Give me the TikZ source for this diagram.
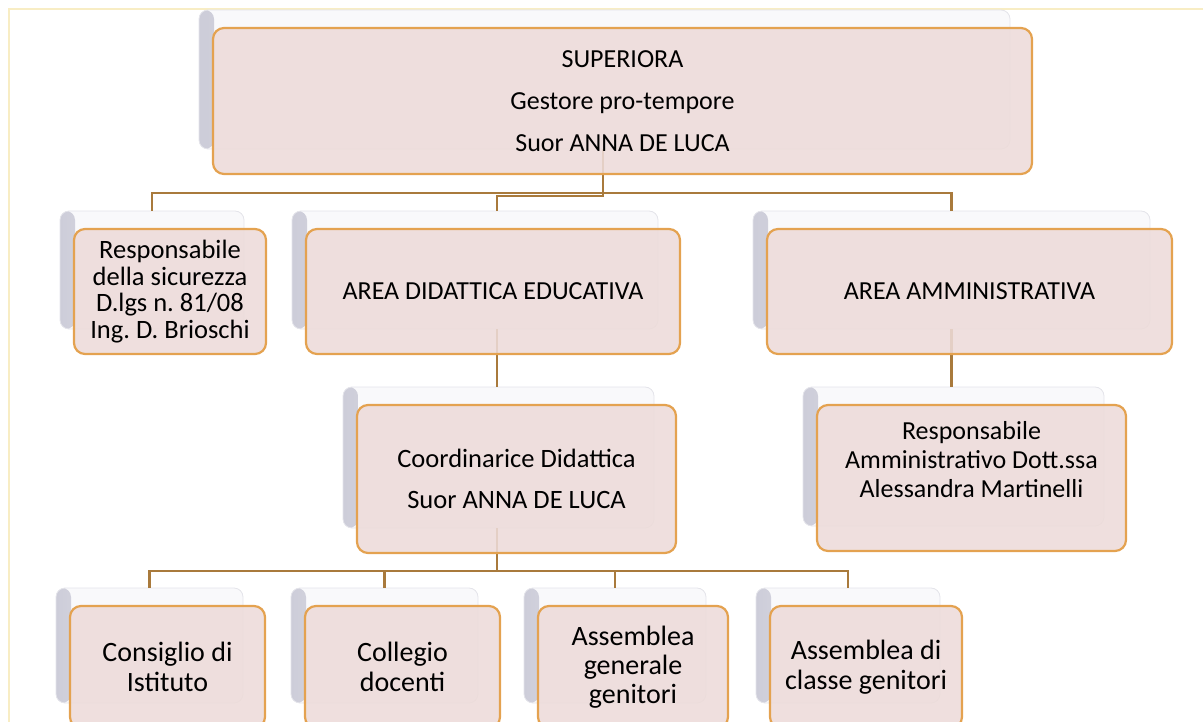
\documentclass[tikz,border=0pt]{standalone}
\usepackage{fontspec}
\setmainfont{Carlito}
\frenchspacing
\definecolor{frontfill}{HTML}{EDDBD9}
\definecolor{frontline}{HTML}{E4A250}
\definecolor{conn}{HTML}{A97A3C}
\definecolor{framec}{HTML}{F8EDC4}
\definecolor{backfill}{HTML}{F9F9FB}
\definecolor{backline}{HTML}{E4E4EA}
\definecolor{backedge}{HTML}{CDCDD9}
\tikzset{
  backbox/.style={rounded corners=9pt, fill=backfill, draw=backline, line width=0.8pt,
    path picture={\shade[left color=backedge, right color=backfill]
      (path picture bounding box.north west) rectangle ([xshift=15pt]path picture bounding box.south west);}},
  frontbox/.style={rounded corners=11pt, fill=frontfill, fill opacity=0.88, text opacity=1,
    draw=frontline, line width=2.2pt, align=center, inner sep=0pt, text=black},
  link/.style={draw=conn, line width=2.2pt},
}
\newcommand\backpart[5]{\node[backbox, minimum width=#4-8, minimum height=#5-7] (#1) at (#2-18,#3-21.5) {};}
\begin{document}
\begin{tikzpicture}[x=1pt,y=-1pt]
\useasboundingbox (0,0) rectangle (1203,722);
\clip (0,0) rectangle (1203,722);
% page frame
\draw[framec, line width=1.2pt] (9,722) -- (9,9) -- (1203,9);
% back plates
\backpart{sb}{622.5}{101}{819}{146}
\backpart{rsb}{170}{291.5}{192}{125}
\backpart{didb}{493}{291.5}{374}{125}
\backpart{ammb}{969.5}{291.5}{405}{125}
\backpart{coordb}{516.5}{479}{319}{148}
\backpart{rammb}{971.5}{478}{309}{146}
\backpart{consb}{167.5}{667}{195}{122}
\backpart{collb}{402.5}{667}{195}{122}
\backpart{agb}{633}{667}{190}{122}
\backpart{acb}{866}{667}{192}{122}
% connectors
\coordinate (tj) at (603,196);
\coordinate (tb) at (497,196);
\coordinate (busa) at (0,193);
\coordinate (busb) at (0,571);
\draw[link] (tj |- sb.south) -- (tj) -- (tb) -- (tb |- didb.north);
\draw[link] (rsb.north) -- (rsb.north |- busa) -- (ammb.north |- busa) -- (ammb.north);
\draw[link] (tb |- didb.south) -- (tb |- coordb.north);
\draw[link] (ammb.south) -- (ammb.south |- rammb.north);
\draw[link] (tb |- coordb.south) -- (tb |- busb);
\draw[link] (consb.north) -- (consb.north |- busb) -- (acb.north |- busb) -- (acb.north);
\draw[link] (collb.north) -- (collb.north |- busb);
\draw[link] (agb.north) -- (agb.north |- busb);
% front boxes
\node[frontbox, minimum width=819, minimum height=146, font=\fontsize{26}{42}\selectfont] (s) at (622.5,101)
  {SUPERIORA\\Gestore pro-tempore\\Suor ANNA DE LUCA};
\node[frontbox, minimum width=192, minimum height=125, font=\fontsize{26.5}{26.5}\selectfont] (rs) at (170,291.5)
  {Responsabile\\della sicurezza\\D.lgs n. 81/08\\Ing. D. Brioschi};
\node[frontbox, minimum width=374, minimum height=125, font=\fontsize{26}{29}\selectfont] (did) at (493,291.5)
  {AREA DIDATTICA EDUCATIVA};
\node[frontbox, minimum width=405, minimum height=125, font=\fontsize{26}{29}\selectfont] (amm) at (969.5,291.5)
  {AREA AMMINISTRATIVA};
\node[frontbox, minimum width=319, minimum height=148, font=\fontsize{26.5}{41}\selectfont] (coord) at (516.5,479)
  {Coordinarice Didattica\\Suor ANNA DE LUCA};
\node[frontbox, minimum width=309, minimum height=146, font=\fontsize{26}{29}\selectfont, text depth=38pt] (ramm) at (971.5,478)
  {Responsabile\\Amministrativo Dott.ssa\\Alessandra Martinelli};
\node[frontbox, minimum width=195, minimum height=122, font=\fontsize{28}{30}\selectfont] (cons) at (167.5,667)
  {Consiglio di\\Istituto};
\node[frontbox, minimum width=195, minimum height=122, font=\fontsize{28}{30}\selectfont] (coll) at (402.5,667)
  {Collegio\\docenti};
\node[frontbox, minimum width=190, minimum height=122, font=\fontsize{28}{29}\selectfont] (ag) at (633,667)
  {Assemblea\\generale\\genitori};
\node[frontbox, minimum width=192, minimum height=122, font=\fontsize{28}{30}\selectfont] (ac) at (866,667)
  {Assemblea di\\classe genitori};
\end{tikzpicture}
\end{document}
